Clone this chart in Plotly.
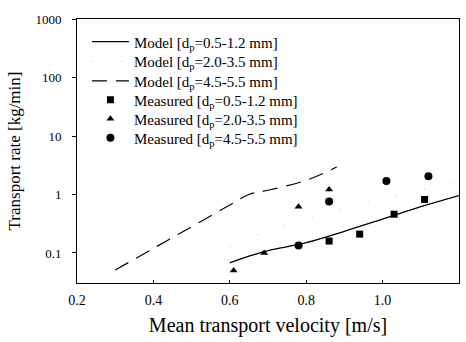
import plotly.graph_objects as go

# Model curves
m1_x = [0.60, 0.65, 0.70, 0.80, 0.90, 1.00, 1.10, 1.20]
m1_y = [0.068, 0.088, 0.110, 0.150, 0.235, 0.38, 0.62, 0.96]

m2_x = [0.60, 0.70, 0.80, 0.90, 1.00, 1.10, 1.20]
m2_y = [0.13, 0.24, 0.38, 0.58, 0.85, 1.20, 1.60]

m3_x = [0.30, 0.40, 0.50, 0.60, 0.65, 0.70, 0.80, 0.88]
m3_y = [0.051, 0.12, 0.28, 0.66, 1.00, 1.18, 1.75, 2.95]

# Measured
s_x = [0.86, 0.94, 1.03, 1.11]
s_y = [0.16, 0.21, 0.46, 0.82]

t_x = [0.61, 0.69, 0.78, 0.86]
t_y = [0.05, 0.10, 0.62, 1.22]

c_x = [0.78, 0.86, 1.01, 1.12]
c_y = [0.134, 0.76, 1.70, 2.05]

x_ticks = [0.2, 0.4, 0.6, 0.8, 1.0, 1.2]
x_ticklabels = ["0.2", "0.4", "0.6", "0.8", "1.0", "1.2"]
y_ticks = [0.1, 1, 10, 100, 1000]
y_ticklabels = ["0.1", "1", "10", "100", "1000"]

x_title = "Mean transport velocity [m/s]"
y_title = "Transport rate [kg/min]"

FONT = "Liberation Serif"

fig = go.Figure()
fig.add_trace(go.Scatter(x=m1_x, y=m1_y, mode="lines", line=dict(color="black", width=1.3, shape="spline"),
                         name="Model [d<sub>p</sub>=0.5-1.2 mm]", legend="legend"))
fig.add_trace(go.Scatter(x=m2_x, y=m2_y, mode="lines", line=dict(color="#d4d4d4", width=1.5, dash="1px,28px", shape="spline"),
                         name="Model [d<sub>p</sub>=2.0-3.5 mm]", legend="legend2"))
fig.add_trace(go.Scatter(x=m3_x, y=m3_y, mode="lines", line=dict(color="black", width=1.2, dash="15px,9px", shape="spline"),
                         name="Model [d<sub>p</sub>=4.5-5.5 mm]", legend="legend3"))
fig.add_trace(go.Scatter(x=s_x, y=s_y, mode="markers", marker=dict(symbol="square", size=7, color="black"),
                         name="Measured [d<sub>p</sub>=0.5-1.2 mm]", legend="legend4"))
fig.add_trace(go.Scatter(x=t_x, y=t_y, mode="markers", marker=dict(symbol="triangle-up", size=7, color="black"),
                         name="Measured [d<sub>p</sub>=2.0-3.5 mm]", legend="legend5"))
fig.add_trace(go.Scatter(x=c_x, y=c_y, mode="markers", marker=dict(symbol="circle", size=8, color="black"),
                         name="Measured [d<sub>p</sub>=4.5-5.5 mm]", legend="legend6"))

row_y = [0.913, 0.839, 0.765, 0.693, 0.621, 0.549]
leg_common = dict(x=0.026, xanchor="left", yanchor="middle", bgcolor="rgba(0,0,0,0)",
                  font=dict(family=FONT, size=15), itemwidth=37)

fig.update_layout(
    width=466, height=342,
    margin=dict(l=77, r=7, t=19, b=59),
    paper_bgcolor="white", plot_bgcolor="white",
    font=dict(family=FONT, size=14, color="black"),
    showlegend=True,
    legend=dict(y=row_y[0], **leg_common),
    legend2=dict(y=row_y[1], **leg_common),
    legend3=dict(y=row_y[2], **leg_common),
    legend4=dict(y=row_y[3], **leg_common),
    legend5=dict(y=row_y[4], **leg_common),
    legend6=dict(y=row_y[5], **leg_common),
)
fig.update_xaxes(range=[0.2, 1.2], tickvals=x_ticks, ticktext=x_ticklabels,
                 showline=True, linecolor="black", linewidth=1, mirror=True,
                 ticks="inside", ticklen=3, tickcolor="black", showgrid=False, zeroline=False,
                 tickfont=dict(family=FONT, size=14), ticklabelstandoff=4,
                 title=dict(text=x_title, font=dict(family=FONT, size=20), standoff=11))
fig.update_yaxes(type="log", range=[-1.513, 3], tickvals=y_ticks, ticktext=y_ticklabels,
                 showline=True, linecolor="black", linewidth=1, mirror=True,
                 ticks="outside", ticklen=4, tickcolor="black", showgrid=False, zeroline=False,
                 tickfont=dict(family=FONT, size=13), ticklabelstandoff=8,
                 title=dict(text=y_title, font=dict(family=FONT, size=17), standoff=10))

fig.write_html("out.html", config={"displayModeBar": False},
               post_script="document.body.style.margin='0px';")
